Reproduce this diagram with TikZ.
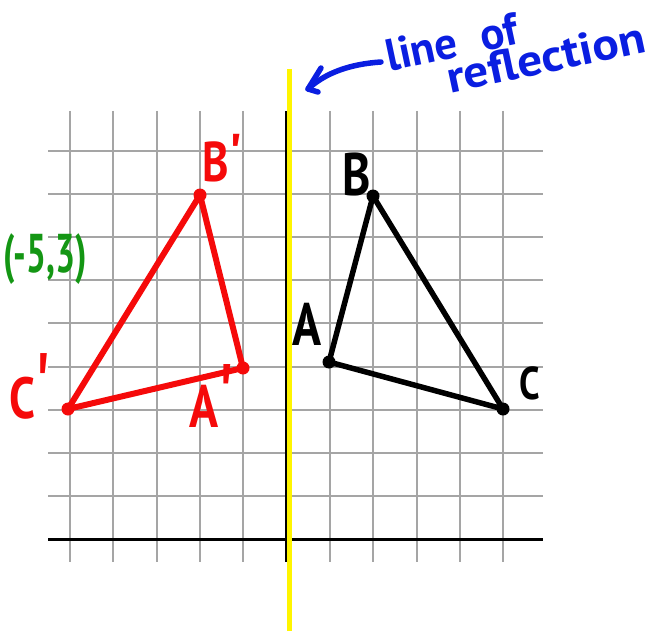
\documentclass[tikz,border=0pt]{standalone}
\usepackage{fontspec}
\setmainfont{PT Sans}[Ligatures=TeXOff]
\definecolor{gridgray}{RGB}{165,165,165}
\definecolor{myred}{RGB}{245,10,10}
\definecolor{myblue}{RGB}{10,30,225}
\definecolor{mygreen}{RGB}{20,150,20}
\definecolor{myyellow}{RGB}{255,245,0}
\newcommand\nar[1]{\scalebox{0.8}[1]{#1}}
\newcommand\tallprime[1]{\scalebox{1}[#1]{'}}
\begin{document}
\begin{tikzpicture}[x=1pt,y=-1pt,
  gridline/.style={draw=gridgray, line width=2pt},
  axisline/.style={draw=black, line width=3pt},
  redtri/.style={draw=myred, line width=6pt, line join=round, line cap=round},
  blacktri/.style={draw=black, line width=5.5pt, line join=round, line cap=round},
  vdot/.style={circle, inner sep=0pt, minimum size=13pt},
  hand/.style={inner sep=0pt, anchor=base west},
  handarrow/.style={draw=myblue, line width=5.5pt, line cap=round, line join=round},
]
\useasboundingbox (0,0) rectangle (655,631);
\fill[white] (0,0) rectangle (655,631);

% grid
\foreach \i in {0,...,10} {
  \pgfmathsetmacro\gx{70+43.33*\i}
  \draw[gridline] (\gx,111) -- (\gx,562);
}
\foreach \j in {0,...,8} {
  \pgfmathsetmacro\gy{151+43.1*\j}
  \draw[gridline] (48,\gy) -- (543,\gy);
}
% axes
\coordinate (xl) at (48,539);
\coordinate (xr) at (543,539);
\coordinate (yt) at (286.7,111);
\coordinate (yb) at (286.7,562);
\draw[axisline] (xl) -- (xr);
\draw[axisline] (yt) -- (yb);

% line of reflection
\coordinate (mirtop) at (289.7,69);
\coordinate (mirbot) at (289.7,631);
\draw[draw=myyellow, line width=4.8pt] (mirtop) -- (mirbot);

% original triangle ABC
\node[vdot, fill=black] (A) at (329,362) {};
\node[vdot, fill=black] (B) at (373,196) {};
\node[vdot, fill=black] (C) at (503,409) {};
\draw[blacktri] (A.center) -- (B.center) -- (C.center) -- cycle;

% image triangle A'B'C'
\node[vdot, fill=myred] (Ap) at (243,368) {};
\node[vdot, fill=myred] (Bp) at (200,195) {};
\node[vdot, fill=myred] (Cp) at (68,409) {};
\draw[redtri] (Ap.center) -- (Bp.center) -- (Cp.center) -- cycle;

% labels
\node[hand, text=black, font=\bfseries\fontsize{60}{60}\selectfont] (labA) at (292,345) {\nar{A}};
\node[hand, text=black, font=\bfseries\fontsize{60}{60}\selectfont] (labB) at (342,195) {\nar{B}};
\node[hand, text=black, font=\bfseries\fontsize{46}{46}\selectfont] (labC) at (519,399) {\nar{C}};

\node[hand, text=myred, font=\bfseries\fontsize{56}{56}\selectfont] (labBp) at (202,181) {\nar{B}\raisebox{8pt}{'}};
\node[hand, text=myred, font=\bfseries\fontsize{58}{58}\selectfont] (labCp) at (9,418) {\nar{C}\tallprime{1.6}};
\node[hand, text=myred, font=\bfseries\fontsize{60}{60}\selectfont] (labAp) at (189,427) {\nar{A}\tallprime{1.5}};

\node[hand, text=mygreen, font=\bfseries\fontsize{52}{52}\selectfont] (coord) at (3,272) {\scalebox{0.68}[1.05]{(-5,3)}};

% note (anchor = start of the last line's baseline)
\node[hand, text=myblue, align=left, font=\bfseries\fontsize{45}{34}\selectfont, rotate=12] (note) at (396,105)
  {line\hspace{24pt}of\\[0pt]\hspace{55pt}\scalebox{1.1}[1]{reflection}};

\coordinate (arrstart) at (381,62);
\coordinate (arrtip) at (308,89);
\coordinate (barb1) at (321,68);
\coordinate (barb2) at (318,92);
\draw[handarrow] (arrstart) .. controls (350,64) and (325,73) .. (arrtip);
\draw[handarrow] (barb1) -- (arrtip) -- (barb2);
\end{tikzpicture}
\end{document}
